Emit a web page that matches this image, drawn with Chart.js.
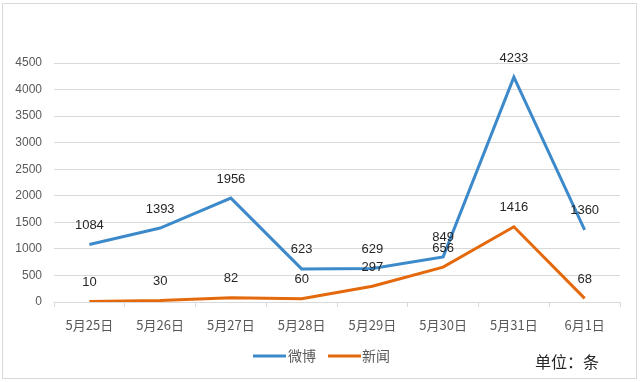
<!DOCTYPE html>
<html><head><meta charset="utf-8">
<script src="https://cdn.jsdelivr.net/npm/chart.js@4"></script>
<style>html,body{margin:0;padding:0;background:#fff;}#wrap{position:relative;width:640px;height:382px;}</style>
</head><body><div id="wrap"><canvas id="c" width="640" height="382"></canvas></div>
<script>
const categories = ['5月25日','5月26日','5月27日','5月28日','5月29日','5月30日','5月31日','6月1日'];
const weibo = [1084, 1393, 1956, 623, 629, 849, 4233, 1360];
const news = [10, 30, 82, 60, 297, 656, 1416, 68];
const yTicks = [0, 500, 1000, 1500, 2000, 2500, 3000, 3500, 4000, 4500];
const seriesNames = ['微博', '新闻'];
const colors = ['#3D8ACB', '#E4690C'];

const cjk = '"Noto Sans CJK SC", "Noto Sans", sans-serif';
const num = '"Liberation Sans", Arial, sans-serif';

const extras = {
  id: 'extras',
  beforeDraw(chart) {
    const ctx = chart.ctx;
    ctx.save();
    ctx.strokeStyle = '#d9d9d9';
    ctx.lineWidth = 1;
    ctx.strokeRect(2.5, 3.5, 634, 375);
    ctx.restore();
  },
  afterDatasetsDraw(chart) {
    const ctx = chart.ctx;
    ctx.save();
    ctx.font = '13px ' + num;
    ctx.fillStyle = '#262626';
    ctx.textAlign = 'center';
    ctx.textBaseline = 'middle';
    chart.data.datasets.forEach((ds, i) => {
      const meta = chart.getDatasetMeta(i);
      meta.data.forEach((pt, j) => {
        ctx.fillText(String(ds.data[j]), pt.x, pt.y - 19);
      });
    });
    ctx.restore();
  },
  afterDraw(chart) {
    const ctx = chart.ctx;
    ctx.save();
    const items = [{x: 253, tx: 288}, {x: 328, tx: 362}];
    items.forEach((it, i) => {
      ctx.strokeStyle = colors[i];
      ctx.lineWidth = 3;
      ctx.beginPath();
      ctx.moveTo(it.x, 356);
      ctx.lineTo(it.x + 33, 356);
      ctx.stroke();
      ctx.fillStyle = '#595959';
      ctx.font = '14px ' + cjk;
      ctx.textAlign = 'left';
      ctx.textBaseline = 'middle';
      ctx.fillText(seriesNames[i], it.tx, 356);
    });
    ctx.fillStyle = '#262626';
    ctx.font = '16px ' + cjk;
    ctx.textAlign = 'left';
    ctx.textBaseline = 'middle';
    ctx.fillText('单位：条', 535, 362);
    ctx.restore();
  }
};

new Chart(document.getElementById('c'), {
  type: 'line',
  data: {
    labels: categories,
    datasets: [
      {label: seriesNames[0], data: weibo, borderColor: colors[0], backgroundColor: colors[0], borderWidth: 3, pointRadius: 0, tension: 0, fill: false},
      {label: seriesNames[1], data: news, borderColor: colors[1], backgroundColor: colors[1], borderWidth: 3, pointRadius: 0, tension: 0, fill: false}
    ]
  },
  options: {
    responsive: false,
    animation: false,
    layout: {padding: {top: 63, right: 20, left: 0, bottom: 40}},
    plugins: {legend: {display: false}, tooltip: {enabled: false}},
    scales: {
      x: {
        offset: true,
        grid: {offset: true, drawOnChartArea: false, drawTicks: true, tickLength: 5, color: '#d9d9d9'},
        border: {display: true, color: '#d9d9d9'},
        ticks: {font: {family: cjk, size: 13}, color: '#595959', padding: 10, maxRotation: 0},
        afterFit(s) { s.height = 40; }
      },
      y: {
        min: 0, max: 4500,
        afterBuildTicks(s) { s.ticks = yTicks.map(v => ({value: v})); },
        grid: {color: '#d9d9d9', drawTicks: false},
        border: {display: false},
        ticks: {font: {family: num, size: 12}, color: '#595959', padding: 12, callback: v => String(v)},
        afterFit(s) { s.width = 54; }
      }
    }
  },
  plugins: [extras]
});
</script></body></html>
